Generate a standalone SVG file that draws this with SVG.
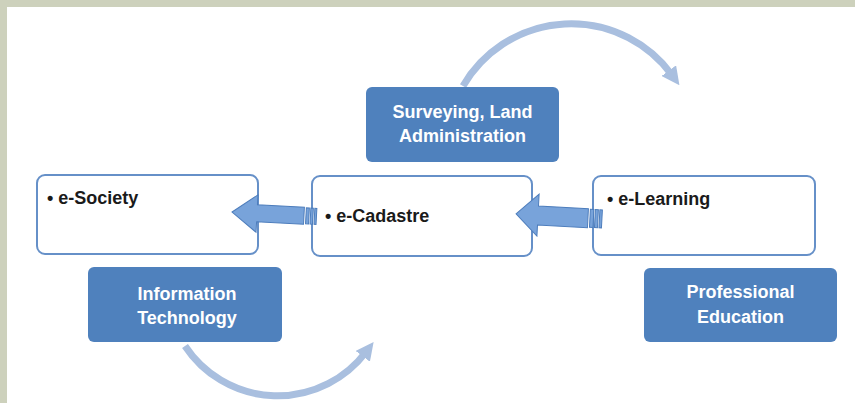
<svg xmlns="http://www.w3.org/2000/svg" width="855" height="403" viewBox="0 0 855 403">
<defs>
<style>
.frame{fill:#cdd1bc}
.box{fill:#ffffff;stroke:#6690c8;stroke-width:2}
.cat{fill:#4f81bd}
.cattxt{font-family:"Liberation Sans",Arial,sans-serif;font-weight:bold;font-size:18px;fill:#ffffff;text-anchor:middle}
.item{font-family:"Liberation Sans",Arial,sans-serif;font-weight:bold;font-size:18px;fill:#1a1a1a}
.curve{fill:none;stroke:#a9bfdf;stroke-width:7}
.blk{fill:#78a3da;stroke:#4d7dbc;stroke-width:1}
</style>
<marker id="ah" markerUnits="userSpaceOnUse" viewBox="0 0 10 10" refX="3" refY="5" markerWidth="18" markerHeight="18" orient="auto">
<path d="M0,0 L10,5 L0,10 z" fill="#a9bfdf"/>
</marker>
</defs>
<rect width="855" height="403" class="frame"/>
<rect x="7" y="7" width="848" height="396" fill="#ffffff"/>

<g id="connectors">
<path class="curve" d="M463,86 A125,125 0 0 1 672,75" marker-end="url(#ah)"/>
<path class="curve" d="M185,346 A111,111 0 0 0 366,352" marker-end="url(#ah)"/>
</g>

<g id="e-society">
<rect class="box" x="37" y="175" width="221" height="79" rx="8"/>
<text class="item" x="47" y="204">• e-Society</text>
</g>
<g id="e-cadastre">
<rect class="box" x="312" y="176" width="220" height="80" rx="8"/>
<text class="item" x="325" y="222">• e-Cadastre</text>
</g>
<g id="e-learning">
<rect class="box" x="593" y="176" width="222" height="79" rx="8"/>
<text class="item" x="607" y="205">• e-Learning</text>
</g>

<g id="block-arrows">
<g transform="rotate(3 270 214)">
<path class="blk" d="M232,214 L257,195.5 L257,205.5 L304,205.5 L304,222.5 L257,222.5 L257,233 Z"/>
<rect class="blk" x="306" y="206" width="3" height="16"/>
<rect class="blk" x="310.5" y="206" width="2.5" height="16"/>
<rect class="blk" x="314.5" y="206" width="2" height="16"/>
</g>
<g transform="rotate(3 556 216)">
<path class="blk" d="M516,216 L538,195 L538,207 L588,207 L588,226 L538,226 L538,237 Z"/>
<rect class="blk" x="590" y="207.5" width="3.5" height="18"/>
<rect class="blk" x="595" y="207.5" width="3" height="18"/>
<rect class="blk" x="599.5" y="207.5" width="2.5" height="18"/>
</g>
</g>

<g id="surveying">
<rect class="cat" x="366" y="87" width="193" height="75" rx="6"/>
<text class="cattxt" x="462.5" y="118">Surveying, Land</text>
<text class="cattxt" x="462.5" y="142">Administration</text>
</g>
<g id="information-technology">
<rect class="cat" x="88" y="267" width="194" height="75" rx="6"/>
<text class="cattxt" x="187" y="300">Information</text>
<text class="cattxt" x="187" y="324">Technology</text>
</g>
<g id="professional-education">
<rect class="cat" x="644" y="268" width="193" height="74" rx="6"/>
<text class="cattxt" x="740.5" y="298">Professional</text>
<text class="cattxt" x="740.5" y="323">Education</text>
</g>
</svg>
